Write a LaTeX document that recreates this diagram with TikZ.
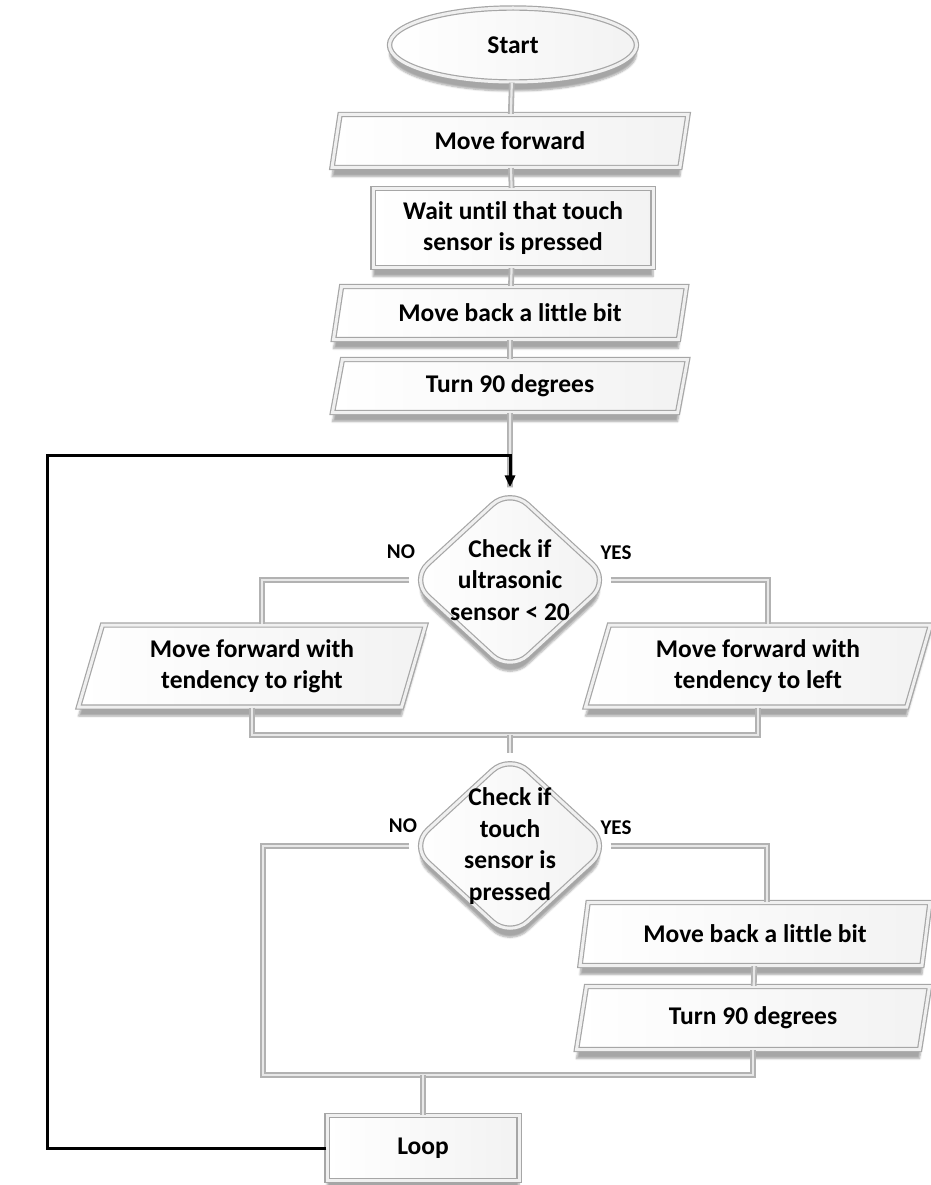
\documentclass[tikz,border=0pt]{standalone}
\usepackage{fontspec}
\setmainfont{Carlito}[Ligatures=NoCommon]
\usetikzlibrary{shapes.geometric,arrows.meta,shadows.blur}

\tikzset{
  bevel/.style={draw=gray!70, double=gray!12, double distance=3pt, line width=1.2pt,
    left color=white, right color=gray!10,
    blur shadow={shadow xshift=0pt, shadow yshift=-9pt, shadow opacity=35, shadow blur steps=6},
    align=center, inner sep=0pt},
  terminal/.style={bevel, ellipse, minimum width=247pt, minimum height=74pt},
  io/.style={bevel, trapezium, trapezium left angle=66, trapezium right angle=114,
    trapezium stretches body, minimum height=#1},
  io/.default=53pt,
  process/.style={bevel, rectangle},
  decision/.style={bevel, diamond, rounded corners=24pt, minimum width=200pt, minimum height=184pt},
  conn/.style={draw=gray!60, double=gray!18, double distance=2.2pt, line width=1.8pt},
  backline/.style={draw=black, line width=3pt, -{Triangle[length=12pt,width=10pt]}},
  answer/.style={font=\fontsize{21}{24}\selectfont\bfseries}
}

\begin{document}
\begin{tikzpicture}[x=1pt,y=-1pt,font=\fontsize{25.5}{31.5}\selectfont\bfseries]
  \useasboundingbox (0,0) rectangle (930,1185);

  % main column
  \node[terminal] (start) at (513,45) {Start};
  \node[io, minimum width=356pt] (fwd) at (510,141) {Move forward};
  \node[process, minimum width=280pt, minimum height=79pt] (wait) at (513,228) {Wait until that touch\\sensor is pressed};
  \node[io, minimum width=353pt] (back) at (510,313) {Move back a little bit};
  \node[io, minimum width=355pt] (turn) at (510,386) {Turn 90 degrees};

  % first check
  \node[decision, label={[align=center]center:Check if\\ultrasonic\\sensor < 20}] (chkdist) at (510,580) {};
  \node[io=82pt, minimum width=347pt] (right) at (252,666) {Move forward with\\tendency to right};
  \node[io=82pt, minimum width=345pt] (left) at (758,666) {Move forward with\\tendency to left};
  \node[answer] (no1) at (401,552) {NO};
  \node[answer] (yes1) at (616,553) {YES};

  % second check
  \node[decision, label={[align=center]center:Check if\\touch\\sensor is\\pressed}] (chktouch) at (510,846) {};
  \node[io=63pt, minimum width=350pt] (backb) at (755,934) {Move back a little bit};
  \node[io=63pt, minimum width=353pt] (turnb) at (753,1018) {Turn 90 degrees};
  \node[answer] (no2) at (403,826) {NO};
  \node[answer] (yes2) at (616,828) {YES};

  \node[process, minimum width=192pt, minimum height=65pt] (loop) at (423,1148) {Loop};

  \coordinate (joina) at (510,735);
  \coordinate (joinb) at (423,1075);
  \coordinate (nocorner) at (263,1075);
  \coordinate (loopcorner) at (47,455);

  % gray connectors
  \draw[conn] (start) -- (fwd);
  \draw[conn] (fwd) -- (wait);
  \draw[conn] (wait) -- (back);
  \draw[conn] (back) -- (turn);
  \draw[conn] (turn.south) -- (chkdist.north);
  \draw[conn] (chkdist.west) -| ([xshift=10pt]right.north);
  \draw[conn] (chkdist.east) -| ([xshift=10pt]left.north);
  \draw[conn] (right.south) |- (joina) -| (left.south);
  \draw[conn] (joina) -- (chktouch.north);
  \draw[conn] (chktouch.west) -| (nocorner) -| (turnb.south);
  \draw[conn] (chktouch.east) -| ([xshift=12pt]backb.north);
  \draw[conn] (backb) -- (turnb);
  \draw[conn] (joinb) -- (loop.north);

  % back to the first check
  \draw[backline] (loop.west) -| (loopcorner) -| (chkdist.north);
\end{tikzpicture}
\end{document}
